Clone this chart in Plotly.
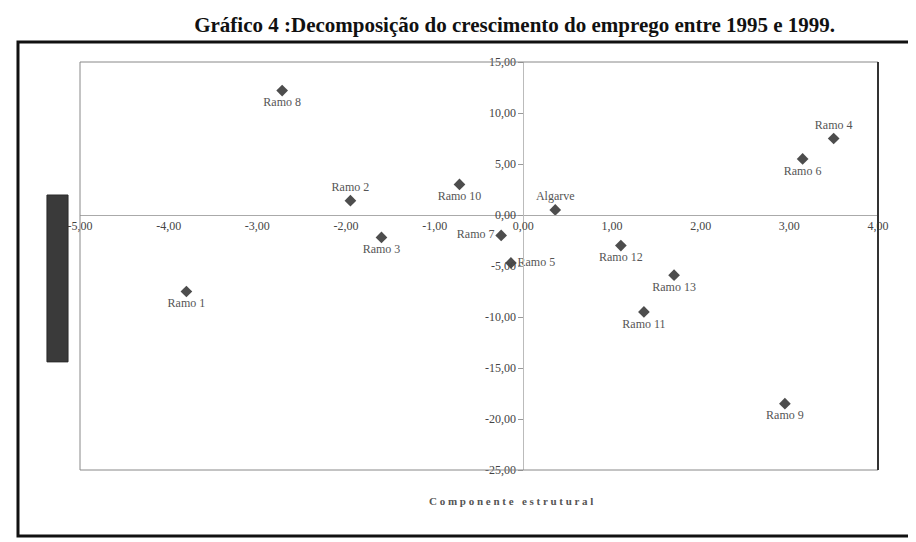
import plotly.graph_objects as go

# Data
labels = ["Ramo 1", "Ramo 2", "Ramo 3", "Ramo 4", "Ramo 5", "Ramo 6", "Ramo 7",
          "Ramo 8", "Ramo 9", "Ramo 10", "Ramo 11", "Ramo 12", "Ramo 13", "Algarve"]
x_vals = [-3.80, -1.95, -1.60, 3.50, -0.14, 3.15, -0.25,
          -2.72, 2.95, -0.72, 1.36, 1.10, 1.70, 0.36]
y_vals = [-7.5, 1.4, -2.2, 7.5, -4.7, 5.5, -2.0,
          12.2, -18.5, 3.0, -9.5, -3.0, -5.9, 0.5]
label_pos = ["bottom center", "top center", "bottom center", "top center", "middle right",
             "bottom center", "middle left", "bottom center", "bottom center", "bottom center",
             "bottom center", "bottom center", "bottom center", "top center"]

x_ticks = [-5, -4, -3, -2, -1, 0, 1, 2, 3, 4]
y_ticks = [-25, -20, -15, -10, -5, 0, 5, 10, 15]
x_ticktext = ["-5,00", "-4,00", "-3,00", "-2,00", "-1,00", "0,00", "1,00", "2,00", "3,00", "4,00"]
y_ticktext = ["-25,00", "-20,00", "-15,00", "-10,00", "-5,00", "0,00", "5,00", "10,00", "15,00"]

title_text = "Gráfico 4 :Decomposição do crescimento do emprego entre 1995 e 1999."
x_title = "C o m p o n e n t e   e s t r u t u r a l"

serif = "Liberation Serif, Times New Roman, serif"

fig = go.Figure()
fig.add_trace(go.Scatter(
    x=x_vals, y=y_vals, mode="markers+text",
    text=labels, textposition=label_pos,
    textfont=dict(family=serif, size=12, color="#555555"),
    marker=dict(symbol="diamond", size=9, color="#4d4d4d"),
    cliponaxis=False, showlegend=False,
))

fig.update_layout(
    width=908, height=534,
    margin=dict(l=72, r=38, t=54, b=72),
    paper_bgcolor="white", plot_bgcolor="white",
    title=dict(text="<b>" + title_text + "</b>", x=0.558, xanchor="center",
               y=0.982, yanchor="top",
               font=dict(family=serif, size=21, color="#111111")),
    xaxis=dict(range=[-5, 4], domain=[0, 1], anchor="free", position=25 / 40,
               tickvals=x_ticks, ticktext=x_ticktext,
               showgrid=False, zeroline=False,
               showline=True, linecolor="#aaaaaa", linewidth=1,
               ticks="", ticklen=0,
               tickfont=dict(family=serif, size=12, color="#444444")),
    yaxis=dict(range=[-25, 15], domain=[0, 1], anchor="free", position=5 / 9,
               tickvals=y_ticks, ticktext=y_ticktext,
               showgrid=False, zeroline=False,
               showline=True, linecolor="#bbbbbb", linewidth=1,
               ticks="outside", ticklen=5, tickcolor="#999999",
               tickfont=dict(family=serif, size=12, color="#444444")),
    shapes=[
        # plot area border
        dict(type="rect", xref="paper", yref="paper", x0=0, x1=1, y0=0, y1=1,
             line=dict(color="#888888", width=1)),
        dict(type="line", xref="paper", yref="paper", x0=1, x1=1, y0=0, y1=1,
             line=dict(color="#333333", width=2)),
        # outer frame
        dict(type="rect", xref="paper", yref="paper",
             x0=-0.0777, x1=1.0426, y0=-0.162, y1=1.049,
             line=dict(color="#111111", width=3)),
        # dark bar on the left
        dict(type="rect", xref="paper", yref="paper",
             x0=-0.0414, x1=-0.015, y0=0.265, y1=0.674,
             fillcolor="#3a3a3a", line=dict(color="#2a2a2a", width=1)),
    ],
    annotations=[
        dict(text="<b>" + x_title + "</b>", xref="paper", yref="paper",
             x=0.54, y=-0.075, xanchor="center", yanchor="middle",
             showarrow=False, font=dict(family=serif, size=11, color="#555555")),
    ],
)

fig.write_html("out.html")
